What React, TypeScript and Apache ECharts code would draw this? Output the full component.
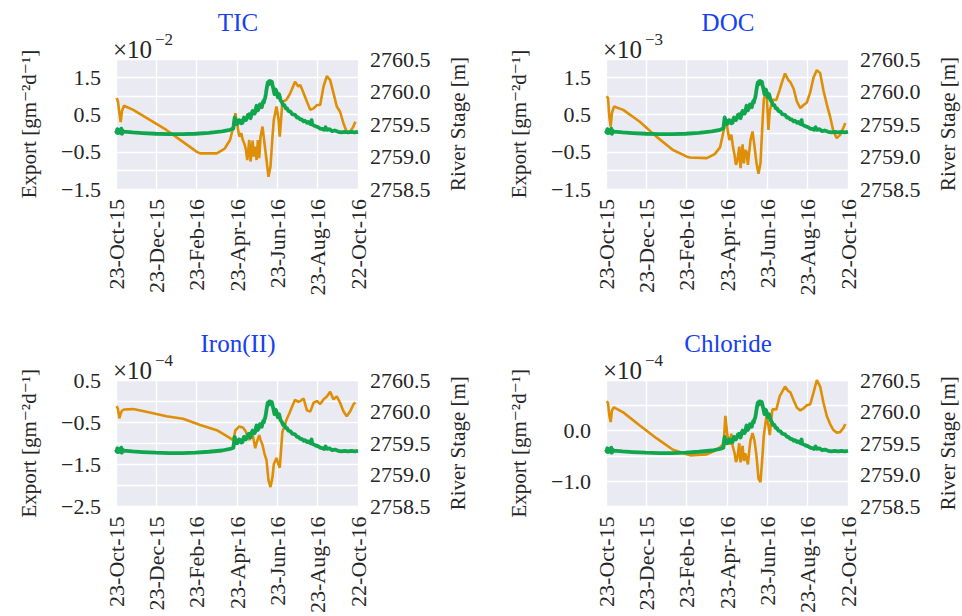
import { useEffect, useRef } from 'react';
import * as echarts from 'echarts';

// Time is measured in days after 23-Oct-2015.
const xTickLabels = ['23-Oct-15', '23-Dec-15', '23-Feb-16', '23-Apr-16', '23-Jun-16', '23-Aug-16', '22-Oct-16'];
const SPAN_DAYS = 365;

// Sample days shared by the four export series.
const exportDays = [
  1, 3, 5, 7, 9, 12,
  26, 51, 76, 101, 122, 127, 152, 164, 172, 176,
  178, 180, 183, 186, 189, 191, 194, 196, 198, 201,
  203, 206, 208, 210, 212, 214, 216, 218, 221, 224,
  227, 230, 233, 236, 238, 242, 245, 247, 251, 257,
  262, 265, 270, 275, 278, 283, 288, 293, 298, 303,
  308, 313, 318, 323, 328, 333, 338, 343, 348, 353,
  358, 361,
];

// Export [g m^-2 d^-1], given as mantissas of the panel's power of ten.
const ticExport = [
  0.95, 0.85, 0.55, 0.30, 0.60, 0.74,
  0.63, 0.36, 0.09, -0.23, -0.50, -0.54, -0.54, -0.41, -0.18, 0.10,
  0.30, 0.54, 0.22, -0.09, 0.00, -0.17, -0.30, -0.45, -0.72, -0.18,
  -0.76, -0.20, -0.63, -0.36, -0.72, -0.18, -0.67, -0.09, 0.18, -0.27,
  -0.72, -1.17, -0.90, -0.09, 0.36, 0.72, 0.40, -0.09, 0.85, 0.90,
  1.05, 1.17, 1.39, 1.26, 1.30, 1.08, 0.85, 0.63, 0.67, 0.76,
  0.76, 1.26, 1.54, 1.43, 1.08, 0.72, 0.58, 0.27, 0.04, 0.04,
  0.18, 0.31,
];
const docExport = [
  1.00, 0.95, 0.45, 0.18, 0.55, 0.72,
  0.63, 0.31, -0.09, -0.45, -0.63, -0.65, -0.67, -0.56, -0.38, -0.05,
  0.13, 0.40, 0.15, -0.18, -0.04, -0.30, -0.60, -0.85, -0.75, -0.36,
  -0.94, -0.30, -0.81, -0.45, -0.50, -0.85, -0.50, -0.18, 0.05, -0.35,
  -0.81, -1.09, -0.81, 0.27, 0.90, 1.20, 0.09, 0.60, 0.90, 0.90,
  1.17, 1.35, 1.61, 1.43, 1.38, 1.20, 0.85, 0.68, 0.76, 0.83,
  1.10, 1.50, 1.70, 1.62, 1.15, 0.78, 0.45, 0.05, -0.13, -0.05,
  0.15, 0.28,
];
const ironExport = [
  -0.12, -0.19, -0.41, -0.30, -0.23, -0.20,
  -0.19, -0.27, -0.36, -0.42, -0.54, -0.57, -0.69, -0.80, -0.88, -0.92,
  -0.85, -0.69, -0.65, -0.60, -0.62, -0.62, -0.68, -0.73, -0.82, -0.92,
  -0.85, -0.78, -0.95, -1.12, -1.00, -0.90, -0.81, -0.92, -1.04, -1.25,
  -1.40, -1.88, -2.04, -1.81, -1.50, -1.35, -1.50, -1.58, -0.73, -0.45,
  -0.27, -0.15, 0.03, -0.02, 0.00, 0.06, -0.22, -0.25, -0.04, 0.00,
  -0.07, 0.04, 0.11, 0.22, 0.04, 0.11, -0.04, -0.24, -0.36, -0.25,
  -0.08, -0.03,
];
const chlorideExport = [
  0.58, 0.55, 0.30, 0.17, 0.40, 0.46,
  0.36, 0.10, -0.15, -0.38, -0.47, -0.49, -0.47, -0.40, -0.33, -0.28,
  -0.15, 0.29, -0.09, -0.28, -0.06, -0.30, -0.45, -0.62, -0.55, -0.25,
  -0.63, -0.30, -0.60, -0.45, -0.55, -0.67, -0.40, -0.19, -0.05, -0.20,
  -0.50, -0.95, -1.02, -0.50, -0.10, 0.29, 0.10, -0.09, 0.42, 0.42,
  0.68, 0.75, 0.87, 0.78, 0.76, 0.60, 0.45, 0.40, 0.44, 0.50,
  0.52, 0.75, 1.00, 0.87, 0.55, 0.29, 0.13, 0.01, -0.04, -0.03,
  0.05, 0.13,
];

// River stage [m], same record in every panel (daily through the spring rise).
const stageDays = [
  0, 1, 2, 3, 4, 5, 6, 7, 8, 9, 10, 12, 16, 25, 40, 60, 80, 100, 120, 140, 160, 172,
  177, 178, 179, 180, 181, 182, 183, 184, 185, 186, 187, 188, 189, 190, 191, 192, 193, 194,
  195, 196, 197, 198, 199, 200, 201, 202, 203, 204, 205, 206, 207, 208, 209, 210, 211, 212,
  213, 214, 215, 216, 217, 218, 219, 220, 221, 222, 223, 224, 225, 226, 227, 228, 229, 230,
  231, 232, 233, 234, 235, 236, 237, 238, 239, 240, 241, 242, 243, 244, 245, 246, 247, 248,
  250, 252, 254, 256, 258, 260, 263, 266, 270, 273, 275, 278, 280, 283, 285, 288, 290, 293,
  295, 296, 300, 305, 308, 312, 314, 316, 318, 322, 326, 330, 335, 340, 345, 350, 355, 360, 365,
];
const riverStage = [
  2759.40, 2759.37, 2759.42, 2759.36, 2759.41, 2759.38, 2759.40, 2759.36, 2759.43, 2759.35,
  2759.40, 2759.38, 2759.38, 2759.37, 2759.36, 2759.35, 2759.345, 2759.345, 2759.35, 2759.365,
  2759.385, 2759.41,
  2759.43, 2759.52, 2759.60, 2759.55, 2759.50, 2759.53, 2759.50, 2759.55, 2759.52, 2759.56,
  2759.53, 2759.55, 2759.51, 2759.54, 2759.52, 2759.57, 2759.60, 2759.57,
  2759.59, 2759.56, 2759.58, 2759.61, 2759.64, 2759.62, 2759.65, 2759.60, 2759.59, 2759.63,
  2759.68, 2759.70, 2759.66, 2759.69, 2759.66, 2759.68, 2759.74, 2759.78,
  2759.74, 2759.71, 2759.73, 2759.77, 2759.80, 2759.77, 2759.79, 2759.76, 2759.82, 2759.85,
  2759.83, 2759.88, 2759.90, 2759.96, 2760.03, 2760.09, 2760.14, 2760.11,
  2760.16, 2760.13, 2760.16, 2760.12, 2760.15, 2760.10, 2760.06, 2760.01, 2759.96, 2759.99,
  2760.03, 2760.00, 2759.95, 2759.91, 2759.94, 2759.96, 2759.92, 2759.87,
  2759.84, 2759.79, 2759.79, 2759.74, 2759.74, 2759.70, 2759.69, 2759.65, 2759.64, 2759.60,
  2759.60, 2759.57, 2759.57, 2759.54, 2759.55, 2759.52, 2759.53, 2759.50,
  2759.56, 2759.49, 2759.47, 2759.45, 2759.43, 2759.42, 2759.41, 2759.45, 2759.41, 2759.42,
  2759.39, 2759.40, 2759.38, 2759.37, 2759.38, 2759.37, 2759.38, 2759.37, 2759.38,
];

// Labelled ticks of each export axis (grid lines run every 0.5).
const ticTickLabels = [-1.5, -0.5, 0.5, 1.5];
const docTickLabels = [-1.5, -0.5, 0.5, 1.5];
const ironTickLabels = [-2.5, -1.5, -0.5, 0.5];
const chlorideTickLabels = [-1.0, 0.0];

const FONT = "'Liberation Serif', 'DejaVu Serif', serif";
const TEXT = '#262626';
const ORANGE = '#DE8F05';
const GREEN = '#10A64E';
const BLUE = '#1740F0';

const panels = [
  { title: 'TIC', exponent: '\u22122', values: ticExport, min: -1.5, max: 2.0, labeled: ticTickLabels, left: 116, top: 59 },
  { title: 'DOC', exponent: '\u22123', values: docExport, min: -1.5, max: 2.0, labeled: docTickLabels, left: 606, top: 59 },
  { title: 'Iron(II)', exponent: '\u22124', values: ironExport, min: -2.5, max: 0.5, labeled: ironTickLabels, left: 116, top: 380 },
  { title: 'Chloride', exponent: '\u22124', values: chlorideExport, min: -1.5, max: 1.0, labeled: chlorideTickLabels, left: 606, top: 380 },
];
const PLOT_W = 242;
const PLOT_H = 130;

const minus = (s: string) => s.replace('-', '\u2212');

function buildOption() {
  const xStep = SPAN_DAYS / 6;
  const grid: any[] = [];
  const xAxis: any[] = [];
  const yAxis: any[] = [];
  const series: any[] = [];
  const graphic: any[] = [];
  const stageData = stageDays.map((d, i) => [d, riverStage[i]]);

  panels.forEach((p, i) => {
    grid.push({
      left: p.left, top: p.top, width: PLOT_W, height: PLOT_H,
      show: true, backgroundColor: '#EAEAF2', borderWidth: 0,
    });
    xAxis.push({
      type: 'value', gridIndex: i, min: 0, max: SPAN_DAYS, interval: xStep,
      axisLine: { show: false }, axisTick: { show: false },
      splitLine: { show: true, lineStyle: { color: '#FFFFFF', width: 1.3 } },
      axisLabel: {
        rotate: 90, margin: 10, fontFamily: FONT, fontSize: 22, color: TEXT,
        formatter: (v: number) => xTickLabels[Math.round(v / xStep)] ?? '',
      },
    });
    yAxis.push({
      type: 'value', gridIndex: i, position: 'left', min: p.min, max: p.max, interval: 0.5,
      axisLine: { show: false }, axisTick: { show: false },
      splitLine: { show: true, lineStyle: { color: '#FFFFFF', width: 1.3 } },
      axisLabel: {
        margin: 15, fontFamily: FONT, fontSize: 22, color: TEXT,
        formatter: (v: number) => {
          const r = Math.round(v * 10) / 10;
          return p.labeled.some((l) => Math.abs(l - r) < 1e-6) ? minus(r.toFixed(1)) : '';
        },
      },
      name: 'Export [gm\u207B\u00B2d\u207B\u00B9]', nameLocation: 'middle', nameRotate: 90, nameGap: 77,
      nameTextStyle: { fontFamily: FONT, fontSize: 21, color: TEXT },
    });
    yAxis.push({
      type: 'value', gridIndex: i, position: 'right', min: 2758.5, max: 2760.5, interval: 0.5,
      axisLine: { show: false }, axisTick: { show: false }, splitLine: { show: false },
      axisLabel: {
        margin: 12, fontFamily: FONT, fontSize: 22, color: TEXT,
        formatter: (v: number) => v.toFixed(1),
      },
      name: 'River Stage [m]', nameLocation: 'middle', nameRotate: 90, nameGap: 89,
      nameTextStyle: { fontFamily: FONT, fontSize: 21, color: TEXT },
    });
    series.push({
      type: 'line', xAxisIndex: i, yAxisIndex: 2 * i, showSymbol: false, z: 2,
      data: exportDays.map((d, k) => [d, p.values[k]]),
      lineStyle: { color: ORANGE, width: 2.6 },
    });
    series.push({
      type: 'line', xAxisIndex: i, yAxisIndex: 2 * i + 1, showSymbol: false, z: 3,
      data: stageData,
      lineStyle: { color: GREEN, width: 3.8, join: 'round' },
    });
    graphic.push({
      type: 'text', x: p.left + PLOT_W / 2 + 1, y: p.top - 37,
      style: { text: p.title, font: `25px ${FONT}`, fill: BLUE, align: 'center', verticalAlign: 'middle' },
    });
    graphic.push({
      type: 'text', x: p.left - 3, y: p.top - 10,
      style: { text: '\u00D710', font: `25px ${FONT}`, fill: TEXT, align: 'left', verticalAlign: 'middle' },
    });
    graphic.push({
      type: 'text', x: p.left + 39, y: p.top - 20,
      style: { text: p.exponent, font: `17px ${FONT}`, fill: TEXT, align: 'left', verticalAlign: 'middle' },
    });
  });

  return { animation: false, backgroundColor: '#FFFFFF', grid, xAxis, yAxis, series, graphic };
}

export default function App() {
  const ref = useRef<HTMLDivElement>(null);
  useEffect(() => {
    const chart = echarts.init(ref.current!, null, { renderer: 'svg' });
    chart.setOption(buildOption());
    return () => chart.dispose();
  }, []);
  return <div ref={ref} style={{ position: 'fixed', left: 0, top: 0, width: 962, height: 616 }} />;
}
